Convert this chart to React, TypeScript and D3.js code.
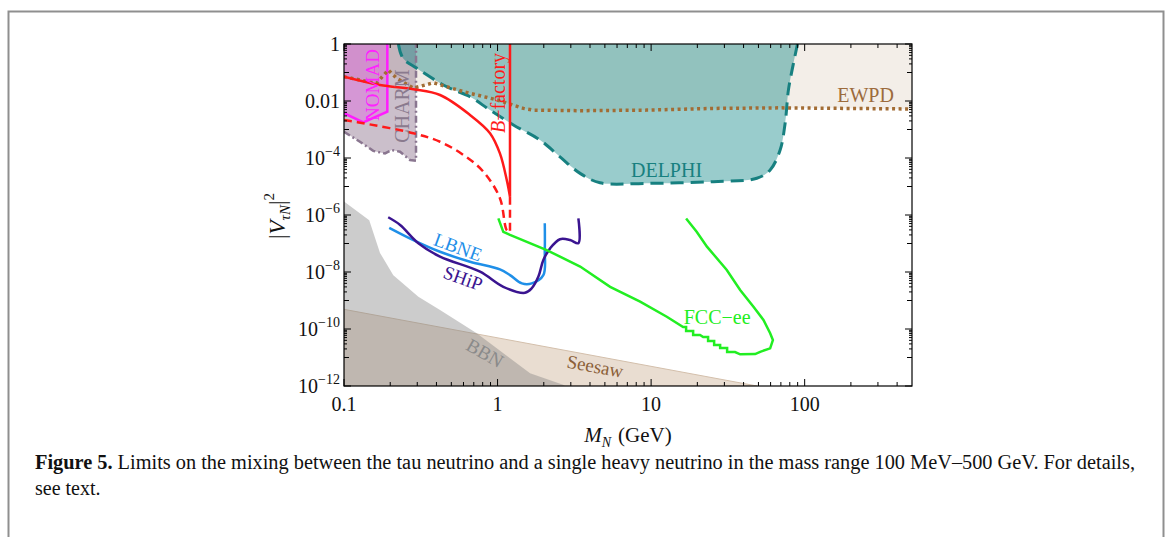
import React from "react";
import * as d3 from "d3";

// Each point: [M_N in GeV, log10 |V_tauN|^2]
type Pt = [number, number];

const xMajor = [0.1, 1, 10, 100];
const xTickLabels = ["0.1", "1", "10", "100"];
const yMajorExp = [0, -2, -4, -6, -8, -10, -12];

const ewpdLine: Pt[] = [
  [0.1, -1.15], [0.163, -1.38], [0.194, -0.91], [0.22, -1.2], [0.283, -1.55],
  [0.382, -1.36], [0.598, -1.67], [0.988, -1.96], [1.472, -2.26], [1.71, -2.32],
  [3.45, -2.34], [9.37, -2.32], [25.5, -2.26], [69.2, -2.24], [500, -2.28],
];

const seesawLine: Pt[] = [[0.1, -9.31], [49, -12]];

const bbnEdge: Pt[] = [
  [0.1, -5.53], [0.146, -6.18], [0.1716, -7.33], [0.2095, -8.11], [0.305, -8.87],
  [0.422, -9.33], [0.732, -10.15], [1.091, -10.85], [1.628, -11.55], [2.67, -11.96], [2.75, -12],
];

const charmEdge: Pt[] = [
  [0.1, -3.08], [0.127, -3.43], [0.155, -3.75], [0.185, -3.84], [0.2045, -3.72],
  [0.2317, -3.78], [0.269, -4.07], [0.2944, -4.1], [0.2944, 0],
];

const nomadEdge: Pt[] = [[0.1, -2.43], [0.1336, -2.75], [0.1915, -2.375], [0.1915, 0]];

const delphiEdge: Pt[] = [
  [0.226, 0], [0.2423, -0.5], [0.2976, -0.85], [0.467, -1.5], [0.662, -1.85],
  [0.893, -2.32], [1.268, -2.84], [1.89, -3.37], [2.55, -3.96], [3.45, -4.54],
  [4.65, -4.87], [9.37, -4.89], [25.5, -4.83], [48.8, -4.71], [59.6, -4.42],
  [69.2, -3.72], [74.6, -2.78], [78.4, -1.61], [84.5, -0.68], [89.8, 0],
];

const bFactorySolid: Pt[] = [
  [0.1, -1.15], [0.1716, -1.44], [0.283, -1.59], [0.422, -1.79], [0.662, -2.49],
  [0.893, -3.13], [1.036, -3.84], [1.148, -4.77], [1.205, -5.36],
];
const bFactoryDashed: Pt[] = [
  [0.1, -2.67], [0.1336, -2.78], [0.283, -3.13], [0.422, -3.43], [0.598, -3.89],
  [0.808, -4.48], [1.036, -5.41], [1.148, -6.53], [1.205, -6.6],
];
const bFactoryMass = 1.205;

const lbneLine: Pt[] = [
  [0.197, -6.45], [0.283, -6.88], [0.422, -7.29], [0.662, -7.64], [1.036, -7.91],
  [1.205, -8.11], [1.44, -8.4], [1.67, -8.4], [1.987, -8.11], [2.03, -7.23], [2.03, -6.29],
];

const shipLine: Pt[] = [
  [0.194, -6.08], [0.232, -6.35], [0.305, -6.99], [0.422, -7.46], [0.769, -7.99],
  [1.091, -8.52], [1.51, -8.73], [1.67, -8.57], [1.845, -8.16], [1.987, -7.58],
  [2.2, -7.17], [2.55, -6.85], [2.97, -6.88], [3.36, -6.99], [3.36, -6.12],
];

const fccLine: Pt[] = [
  [1.012, -6.12], [1.09, -6.59], [1.205, -6.7], [2.09, -7.23], [3.45, -7.81],
  [5.41, -8.52], [8.48, -9.04], [12.65, -9.57], [16.16, -9.93], [16.9, -9.93],
  [16.9, -10.07], [18.78, -10.07], [18.78, -10.21], [20.84, -10.21], [21.82, -10.28],
  [23.5, -10.28], [23.5, -10.42], [25.73, -10.42], [25.73, -10.56], [28.15, -10.56],
  [28.15, -10.67], [31.26, -10.67], [31.26, -10.81], [35.2, -10.81], [38.0, -10.89],
  [47.6, -10.88], [51.3, -10.8], [59.6, -10.68], [62.1, -10.39], [59.6, -10.15],
  [53.9, -9.68], [46.4, -9.22], [38.0, -8.63], [31.1, -7.93], [23.1, -7.11],
  [19.8, -6.59], [16.9, -6.12],
];

const FONT = "'Liberation Serif', 'Times New Roman', serif";
const PLOT = { left: 344, right: 912, top: 44, bottom: 386 };

const x = d3.scaleLog().domain([0.1, 500]).range([PLOT.left, PLOT.right]);
const y = d3.scaleLog().domain([1e-12, 1]).range([PLOT.bottom, PLOT.top]);
const px = (p: Pt) => x(p[0]);
const py = (p: Pt) => y(Math.pow(10, p[1]));

const straight = d3.line<Pt>().x(px).y(py);
const smooth = d3.line<Pt>().x(px).y(py).curve(d3.curveCatmullRom.alpha(0.5));

const closed = (pts: Pt[]) => straight(pts) + "Z";

type LabelProps = {
  at: Pt;
  color: string;
  size: number;
  rotate?: number;
  children: React.ReactNode;
};
const Label = ({ at, color, size, rotate = 0, children }: LabelProps) => (
  <text
    transform={`translate(${px(at)},${py(at)}) rotate(${rotate})`}
    textAnchor="middle"
    dy="0.35em"
    fill={color}
    fontSize={size}
  >
    {children}
  </text>
);

export default function App() {
  // tick positions
  const xMinor: number[] = [];
  xMajor.forEach((d) => {
    for (let j = 2; j <= 9; j++) if (j * d < 500) xMinor.push(j * d);
  });
  const yOdd = [-1, -3, -5, -7, -9, -11].map((e) => Math.pow(10, e));
  const ySub: number[] = [];
  yMajorExp.forEach((k) => {
    if (k > -12) for (let j = 2; j <= 9; j++) ySub.push(j * Math.pow(10, k - 1));
  });

  const xTick = (v: number, len: number, key: string) => (
    <g key={key}>
      <line x1={x(v)} x2={x(v)} y1={PLOT.bottom} y2={PLOT.bottom - len} stroke="#000" strokeWidth={1} />
      <line x1={x(v)} x2={x(v)} y1={PLOT.top} y2={PLOT.top + len} stroke="#000" strokeWidth={1} />
    </g>
  );
  const yTick = (v: number, len: number, key: string) => (
    <g key={key}>
      <line y1={y(v)} y2={y(v)} x1={PLOT.left} x2={PLOT.left + len} stroke="#000" strokeWidth={1} />
      <line y1={y(v)} y2={y(v)} x1={PLOT.right} x2={PLOT.right - len} stroke="#000" strokeWidth={1} />
    </g>
  );

  const ewpdFill = closed([...ewpdLine, [500, 0], [0.1, 0]]);
  const seesawFill = closed([...seesawLine, [0.1, -12]]);
  const bbnFill = closed([...bbnEdge, [0.1, -12]]);
  const charmFill = closed([...charmEdge, [0.1, 0]]);
  const nomadFill = closed([...nomadEdge, [0.1, 0]]);
  const delphiFill = smooth(delphiEdge) + "Z";

  return (
    <svg
      width={1170}
      height={537}
      style={{ position: "absolute", left: 0, top: 0, background: "#fff" }}
      fontFamily={FONT}
    >
      <rect x={8.5} y={11.5} width={1155} height={600} fill="none" stroke="#8f8f8f" strokeWidth={2} />
      <defs>
        <clipPath id="plotArea">
          <rect x={PLOT.left} y={PLOT.top} width={PLOT.right - PLOT.left} height={PLOT.bottom - PLOT.top} />
        </clipPath>
      </defs>

      <g clipPath="url(#plotArea)">
        {/* excluded regions */}
        <path d={ewpdFill} fill="#f3eee8" />
        <path d={seesawFill} fill="#e9ddd1" stroke="#d3bfab" strokeWidth={1} />
        <path d={bbnFill} fill="rgba(128,128,128,0.4)" />
        <path d={charmFill} fill="rgba(125,95,125,0.4)" />
        <path d={nomadFill} fill="rgba(240,60,240,0.3)" />
        <path d={delphiFill} fill="rgba(0,128,128,0.4)" />

        {/* boundaries */}
        <path d={straight(charmEdge)!} fill="none" stroke="#8a7690" strokeWidth={2.5} strokeDasharray="7 3 2 3" />
        <path d={straight(nomadEdge)!} fill="none" stroke="#ff1cff" strokeWidth={2.5} />
        <path d={smooth(delphiEdge)!} fill="none" stroke="#178080" strokeWidth={3} strokeDasharray="13 7" />
        <path d={straight(ewpdLine)!} fill="none" stroke="#a26c34" strokeWidth={3.5} strokeDasharray="3 3.5" />

        {/* B-factory */}
        <path
          d={smooth([...bFactorySolid])! + `L${x(bFactoryMass)},${y(1)}`}
          fill="none"
          stroke="#ff1a1a"
          strokeWidth={2.5}
        />
        <path
          d={smooth(bFactoryDashed)! + `L${x(bFactoryMass)},${py(bFactorySolid[bFactorySolid.length - 1])}`}
          fill="none"
          stroke="#ff1a1a"
          strokeWidth={2.5}
          strokeDasharray="8 5"
        />

        {/* future sensitivities */}
        <path d={smooth(lbneLine)!} fill="none" stroke="#1f8fe8" strokeWidth={2.5} />
        <path d={smooth(shipLine)!} fill="none" stroke="#3a1490" strokeWidth={2.5} />
        <path d={straight(fccLine)!} fill="none" stroke="#22ee22" strokeWidth={2.5} />

        {/* region labels */}
        <Label at={[0.152, -1.44]} color="#ff22ff" size={19} rotate={-90}>NOMAD</Label>
        <Label at={[0.2386, -2.18]} color="#8a7a8e" size={20} rotate={-90}>CHARM</Label>
        <Label at={[1.008, -1.72]} color="#ff1a1a" size={20} rotate={-90}>
          <tspan fontStyle="italic">B</tspan>−factory
        </Label>
        <Label at={[12.6, -4.42]} color="#178080" size={20}>DELPHI</Label>
        <Label at={[249, -1.79]} color="#9c6b3c" size={20}>EWPD</Label>
        <Label at={[0.553, -7.12]} color="#1f8fe8" size={19} rotate={20}>LBNE</Label>
        <Label at={[0.596, -8.21]} color="#3a1490" size={19} rotate={20}>SHiP</Label>
        <Label at={[26.9, -9.58]} color="#22ee22" size={20}>FCC−ee</Label>
        <Label at={[0.829, -10.84]} color="#8a8a8a" size={19} rotate={30}>BBN</Label>
        <Label at={[4.32, -11.3]} color="#8b6038" size={19} rotate={10.5}>Seesaw</Label>
      </g>

      {/* frame and ticks */}
      <rect
        x={PLOT.left}
        y={PLOT.top}
        width={PLOT.right - PLOT.left}
        height={PLOT.bottom - PLOT.top}
        fill="none"
        stroke="#000"
        strokeWidth={1.2}
      />
      {xMajor.map((v, i) => xTick(v, 7, "xM" + i))}
      {xMinor.map((v, i) => xTick(v, 4, "xm" + i))}
      {yMajorExp.map((e, i) => yTick(Math.pow(10, e), 7, "yM" + i))}
      {yOdd.map((v, i) => yTick(v, 5, "yo" + i))}
      {ySub.map((v, i) => yTick(v, 3, "ys" + i))}

      {/* tick labels */}
      {xMajor.map((v, i) => (
        <text key={"xl" + i} x={x(v)} y={411} textAnchor="middle" fontSize={20} fill="#111">
          {xTickLabels[i]}
        </text>
      ))}
      {yMajorExp.map((e, i) => (
        <text key={"yl" + i} x={340} y={y(Math.pow(10, e))} dy="0.35em" textAnchor="end" fontSize={20} fill="#111">
          {e === 0 ? "1" : e === -2 ? "0.01" : (
            <>
              10<tspan fontSize={14} dy={-9}>{"−" + String(-e)}</tspan>
            </>
          )}
        </text>
      ))}

      {/* axis titles */}
      <text transform="translate(285,216) rotate(-90)" textAnchor="middle" fontSize={23} fill="#111">
        |<tspan fontStyle="italic">V</tspan>
        <tspan fontStyle="italic" fontSize={15} dy={5}>τN</tspan>
        <tspan dy={-5}>|</tspan>
        <tspan fontSize={15} dy={-11}>2</tspan>
      </text>
      <text x={628} y={442} textAnchor="middle" fontSize={21} fill="#111">
        <tspan fontStyle="italic">M</tspan>
        <tspan fontStyle="italic" fontSize={14} dy={5}>N</tspan>
        <tspan dy={-5} dx={7}>(GeV)</tspan>
      </text>

      {/* caption */}
      <text x={35} y={469} fontSize={20} fill="#111" textLength={1100} lengthAdjust="spacingAndGlyphs">
        <tspan fontWeight="bold">Figure 5.</tspan> Limits on the mixing between the tau neutrino and a single heavy neutrino in the mass range 100 MeV–500 GeV. For details,
      </text>
      <text x={35} y={495} fontSize={20} fill="#111">see text.</text>
    </svg>
  );
}
